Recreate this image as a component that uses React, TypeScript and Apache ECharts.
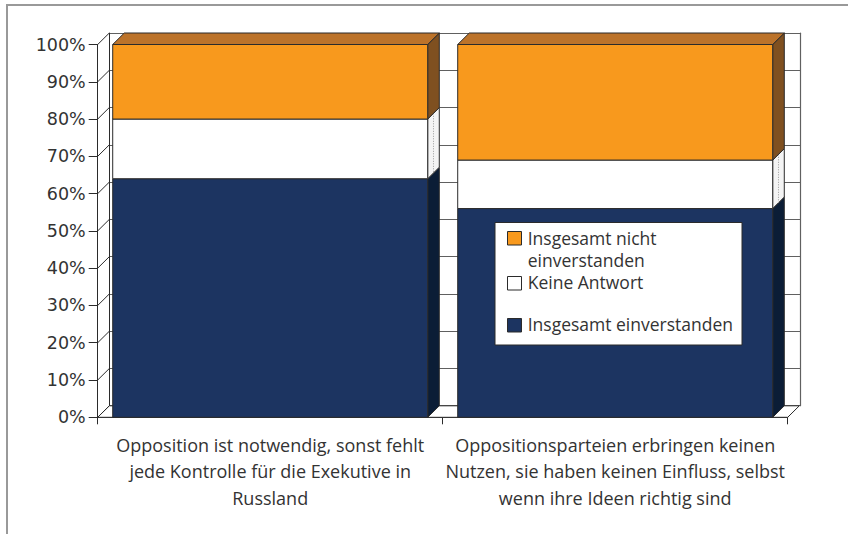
import React, { useEffect, useRef } from "react";
import * as echarts from "echarts";

const CATEGORIES = [
  "Opposition ist notwendig, sonst fehlt\njede Kontrolle für die Exekutive in\nRussland",
  "Oppositionsparteien erbringen keinen\nNutzen, sie haben keinen Einfluss, selbst\nwenn ihre Ideen richtig sind",
];
const SERIES_NAMES = ["Insgesamt einverstanden", "Keine Antwort", "Insgesamt nicht einverstanden"];
const AGREE = [64, 56];
const NO_ANSWER = [16, 13];
const DISAGREE = [20, 31];
const Y_TICKS = [0, 10, 20, 30, 40, 50, 60, 70, 80, 90, 100];

const DX = 11.6;
const DY = 11.5;
const EDGE = "#2b2b2b";
const TEXT = "#333333";
const FONT = "'Open Sans', 'Liberation Sans', sans-serif";

const COLORS = {
  agree: { front: "#1C3461", side: "#0B1D36", top: "#2A4A80" },
  none: { front: "#FFFFFF", side: "#F4F4F4", top: "#F0F0F0" },
  disagree: { front: "#F8991D", side: "#7F5020", top: "#BC732A" },
};

function barSeries(name: string, base: number[], vals: number[], col: any, dotted: boolean) {
  const totals = CATEGORIES.map((_, i) => AGREE[i] + NO_ANSWER[i] + DISAGREE[i]);
  return {
    type: "custom",
    name,
    xAxisIndex: 0,
    yAxisIndex: 0,
    z: 3,
    encode: { x: 0, y: [1, 2] },
    data: CATEGORIES.map((_, i) => [i, base[i], base[i] + vals[i], totals[i]]),
    renderItem: (params: any, api: any) => {
      const cat = api.value(0);
      const b = api.value(1);
      const t = api.value(2);
      const tot = api.value(3);
      const pT = api.coord([cat, t]);
      const pB = api.coord([cat, b]);
      const band = api.size([1, 0])[0];
      const w = band * 0.913;
      const x0 = pT[0] - w / 2;
      const x1 = x0 + w;
      const children: any[] = [];
      children.push({
        type: "polygon",
        shape: { points: [[x1, pB[1]], [x1, pT[1]], [x1 + DX, pT[1] - DY], [x1 + DX, pB[1] - DY]] },
        style: { fill: col.side, stroke: EDGE, lineWidth: 1 },
      });
      if (dotted) {
        children.push({
          type: "line",
          shape: { x1: x1 + DX / 2, y1: pT[1] - DY / 2, x2: x1 + DX / 2, y2: pB[1] - DY / 2 },
          style: { stroke: "#9a9a9a", lineWidth: 1, lineDash: [1, 1.5] },
        });
      }
      if (Math.abs(t - tot) < 1e-6) {
        children.push({
          type: "polygon",
          shape: { points: [[x0, pT[1]], [x0 + DX, pT[1] - DY], [x1 + DX, pT[1] - DY], [x1, pT[1]]] },
          style: { fill: col.top, stroke: EDGE, lineWidth: 1 },
        });
      }
      children.push({
        type: "rect",
        shape: { x: x0, y: pT[1], width: w, height: pB[1] - pT[1] },
        style: { fill: col.front, stroke: EDGE, lineWidth: 1 },
      });
      return { type: "group", children };
    },
  };
}

export default function App() {
  const ref = useRef<HTMLDivElement>(null);
  useEffect(() => {
    if (!ref.current) return;
    const chart = echarts.init(ref.current, null, { renderer: "svg" });
    const noAnswerBase = AGREE.slice();
    const disagreeBase = AGREE.map((v, i) => v + NO_ANSWER[i]);

    const wallSeries = {
      type: "custom",
      name: "walls",
      xAxisIndex: 0,
      yAxisIndex: 0,
      z: 2,
      silent: true,
      encode: { x: 0, y: 1 },
      data: Y_TICKS.map((v) => [0, v]),
      renderItem: (params: any, api: any) => {
        const cs = params.coordSys;
        const v = api.value(1);
        const y = api.coord([0, v])[1];
        const children: any[] = [];
        if (v === 0) {
          children.push({
            type: "polygon",
            shape: {
              points: [
                [cs.x, y],
                [cs.x + DX, y - DY],
                [cs.x + cs.width + DX, y - DY],
                [cs.x + cs.width, y],
              ],
            },
            style: { fill: "#fff", stroke: EDGE, lineWidth: 1 },
          });
        }
        children.push({
          type: "line",
          shape: { x1: cs.x, y1: y, x2: cs.x + DX, y2: y - DY },
          style: { stroke: EDGE, lineWidth: 1 },
        });
        return { type: "group", children };
      },
    };

    const legendItems = [
      { name: SERIES_NAMES[2], color: COLORS.disagree.front, sq: 231.5, text: "Insgesamt nicht\neinverstanden", ty: 249.0 },
      { name: SERIES_NAMES[1], color: COLORS.none.front, sq: 276.5, text: SERIES_NAMES[1], ty: 282.3 },
      { name: SERIES_NAMES[0], color: COLORS.agree.front, sq: 318.5, text: SERIES_NAMES[0], ty: 324.2 },
    ];

    const graphic: any[] = [
      {
        type: "rect",
        z: -1,
        silent: true,
        shape: { x: 7, y: 5, width: 900, height: 600 },
        style: { fill: "none", stroke: "#999999", lineWidth: 2 },
      },
      {
        type: "rect",
        z: 50,
        shape: { x: 495, y: 222.5, width: 247, height: 122.5 },
        style: { fill: "#ffffff", stroke: EDGE, lineWidth: 1 },
      },
    ];
    legendItems.forEach((it) => {
      graphic.push({
        type: "rect",
        z: 51,
        shape: { x: 507.5, y: it.sq, width: 14, height: 13.5 },
        style: { fill: it.color, stroke: EDGE, lineWidth: 1 },
      });
      graphic.push({
        type: "text",
        z: 51,
        x: 527.7,
        y: it.ty,
        style: {
          text: it.text,
          fontFamily: FONT,
          fontSize: 17.5,
          lineHeight: 22.5,
          fill: TEXT,
          align: "left",
          verticalAlign: "middle",
        },
      });
    });

    chart.setOption({
      animation: false,
      backgroundColor: "#ffffff",
      grid: [
        { left: 97.7, top: 44.5, width: 690, height: 372.8 },
        { left: 109.3, top: 33.2, width: 690.7, height: 372.5 },
      ],
      xAxis: [
        {
          type: "category",
          gridIndex: 0,
          data: CATEGORIES,
          axisLine: { show: true, lineStyle: { color: EDGE, width: 1 } },
          axisTick: { show: true, length: 7, lineStyle: { color: EDGE } },
          axisLabel: {
            interval: 0,
            margin: 14,
            fontFamily: FONT,
            fontSize: 18,
            lineHeight: 26.5,
            color: TEXT,
          },
          splitLine: { show: false },
        },
        {
          type: "category",
          gridIndex: 1,
          data: CATEGORIES,
          show: false,
        },
      ],
      yAxis: [
        {
          type: "value",
          gridIndex: 0,
          min: 0,
          max: 100,
          interval: 10,
          axisLine: { show: true, lineStyle: { color: EDGE, width: 1 } },
          axisTick: { show: true, length: 9, lineStyle: { color: EDGE } },
          axisLabel: {
            formatter: "{value}%",
            margin: 12,
            fontFamily: "'DejaVu Sans', sans-serif",
            fontSize: 17.5,
            color: TEXT,
          },
          splitLine: { show: false },
        },
        {
          type: "value",
          gridIndex: 1,
          min: 0,
          max: 100,
          interval: 10,
          axisLine: { show: true, lineStyle: { color: EDGE, width: 1 } },
          axisTick: { show: false },
          axisLabel: { show: false },
          splitLine: { show: true, lineStyle: { color: "#606060", width: 1.2 } },
        },
        {
          type: "value",
          gridIndex: 1,
          position: "right",
          min: 0,
          max: 100,
          interval: 10,
          axisLine: { show: true, lineStyle: { color: "#606060", width: 1.2 } },
          axisTick: { show: false },
          axisLabel: { show: false },
          splitLine: { show: false },
        },
      ],
      graphic,
      series: [
        wallSeries,
        barSeries(SERIES_NAMES[0], CATEGORIES.map(() => 0), AGREE, COLORS.agree, false),
        barSeries(SERIES_NAMES[1], noAnswerBase, NO_ANSWER, COLORS.none, true),
        barSeries(SERIES_NAMES[2], disagreeBase, DISAGREE, COLORS.disagree, false),
      ],
    });
    return () => chart.dispose();
  }, []);
  return (
    <div
      ref={ref}
      style={{ position: "fixed", left: 0, top: 0, width: 848, height: 534, background: "#fff" }}
    />
  );
}
